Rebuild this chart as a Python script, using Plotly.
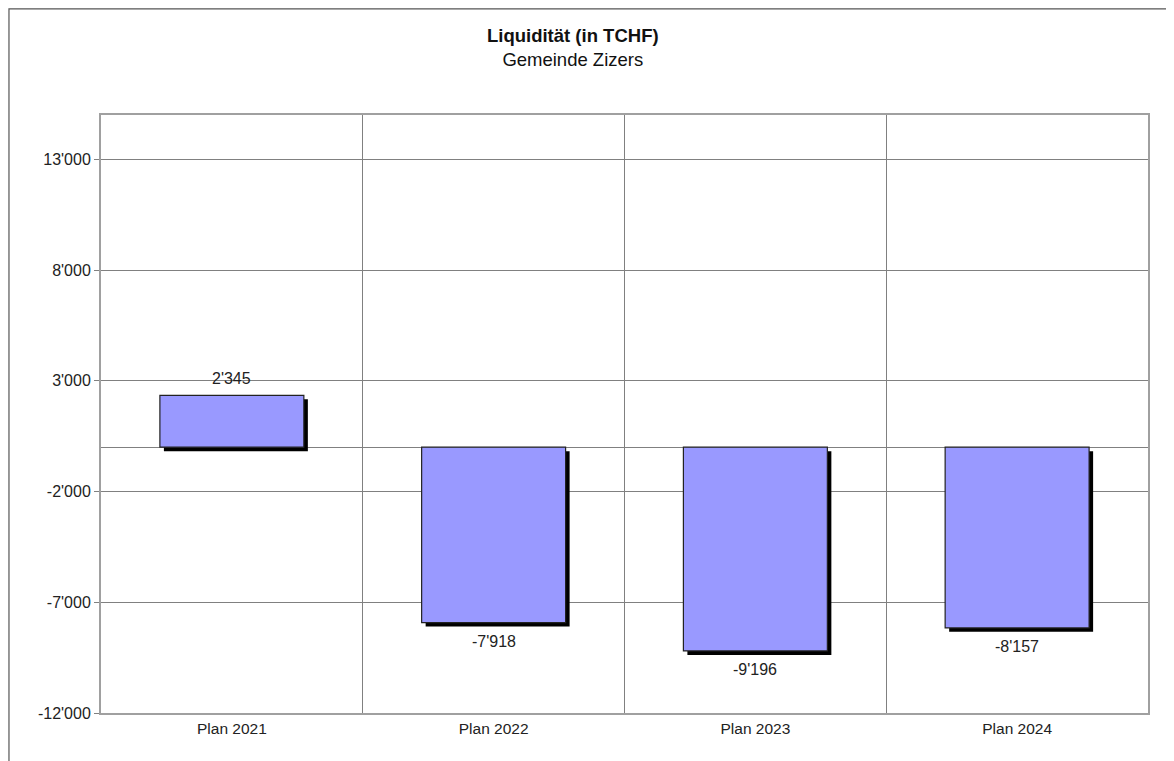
import plotly.graph_objects as go

# data
categories = ["Plan 2021", "Plan 2022", "Plan 2023", "Plan 2024"]
values = [2345, -7918, -9196, -8157]
value_labels = ["2'345", "-7'918", "-9'196", "-8'157"]
y_ticks = [-12000, -7000, -2000, 3000, 8000, 13000]
y_tick_labels = ["-12'000", "-7'000", "-2'000", "3'000", "8'000", "13'000"]

FONT = "Liberation Sans, Arial, sans-serif"
BAR_W = 0.55
# drop shadow: ~4px right and down
SH_X = 0.0153
SH_Y = 180

fig = go.Figure()

# shadow bars
fig.add_trace(go.Bar(
    x=categories,
    y=values,
    base=-SH_Y,
    width=BAR_W,
    offset=-BAR_W / 2 + SH_X,
    marker=dict(color="black", line=dict(width=0)),
    hoverinfo="skip",
    showlegend=False,
))

# main bars
fig.add_trace(go.Bar(
    x=categories,
    y=values,
    width=BAR_W,
    offset=-BAR_W / 2,
    marker=dict(color="#9999FF", line=dict(color="#222222", width=1.2)),
    showlegend=False,
))

# value labels
for cat, v, lab in zip(categories, values, value_labels):
    fig.add_annotation(
        x=cat, y=v, text=lab, showarrow=False,
        yshift=17 if v >= 0 else -19,
        font=dict(family=FONT, size=16, color="#222222"),
    )

# title and subtitle in one block
fig.add_annotation(
    x=0.4508, y=1.1137, xref="paper", yref="paper", yanchor="middle",
    text="<b>Liquidität (in TCHF)</b><br>Gemeinde Zizers", showarrow=False,
    font=dict(family=FONT, size=18.5, color="#111111"),
)

# outer frame (right and bottom edges lie outside the picture)
fig.add_shape(
    type="rect", xref="paper", yref="paper",
    x0=-0.0879, x1=1.2, y0=-0.3, y1=1.1773,
    line=dict(color="#555555", width=1.2),
)

# page body has an 8px margin, so the figure is made 8px smaller
fig.update_layout(
    width=1166,
    height=753,
    margin=dict(l=93, r=26, t=107, b=48),
    paper_bgcolor="white",
    plot_bgcolor="white",
    barmode="overlay",
    font=dict(family=FONT, size=16, color="#222222"),
)

fig.update_xaxes(
    type="category",
    range=[-0.5, 3.5],
    tickson="boundaries",
    ticks="",
    showgrid=True,
    gridcolor="#808080",
    gridwidth=1,
    showline=True,
    mirror=True,
    linecolor="#a0a0a0",
    linewidth=2,
    tickfont=dict(family=FONT, size=15.5, color="#222222"),
)

fig.update_yaxes(
    range=[-12000, 15000],
    tickvals=y_ticks,
    ticktext=y_tick_labels,
    ticks="outside",
    ticklen=5,
    tickcolor="#808080",
    showgrid=True,
    gridcolor="#808080",
    gridwidth=1,
    zeroline=True,
    zerolinecolor="#808080",
    zerolinewidth=1,
    showline=True,
    mirror=True,
    linecolor="#a0a0a0",
    linewidth=2,
    tickfont=dict(family=FONT, size=16, color="#222222"),
)

fig.write_html("out.html")
